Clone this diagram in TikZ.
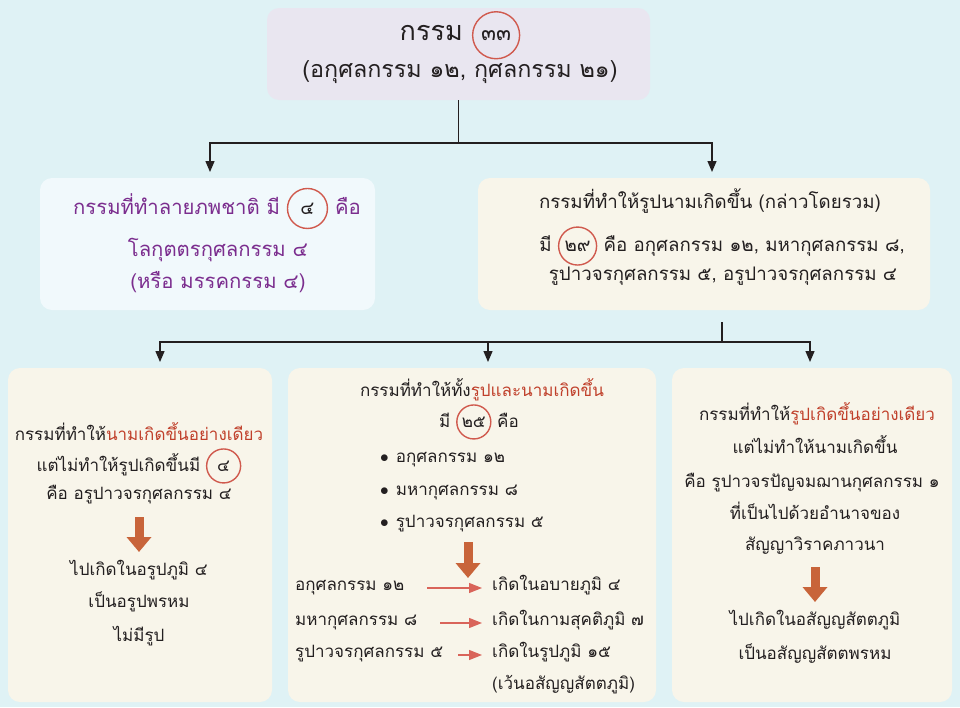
\documentclass[tikz,border=0pt]{standalone}
\usepackage{fontspec}
\newfontfamily\thai[Script=Thai]{Loma}
\usetikzlibrary{arrows.meta}
\definecolor{bgc}{HTML}{DFF2F5}
\definecolor{lav}{HTML}{E9E6F0}
\definecolor{lblue}{HTML}{F1F9FC}
\definecolor{cream}{HTML}{F8F5EA}
\definecolor{purp}{HTML}{7B2D8E}
\definecolor{redt}{HTML}{C0402B}
\definecolor{circ}{HTML}{D05A4E}
\definecolor{orng}{HTML}{C8643A}
\definecolor{salm}{HTML}{D9645A}
\definecolor{ink}{HTML}{231F20}
\newcommand{\cnum}[2][36]{\tikz[baseline=(cn.base)]\node[draw=circ,circle,line width=1.4pt,inner sep=0pt,minimum size=#1] (cn) {#2};}
\tikzset{
  box/.style={rounded corners=12pt, draw=none},
  txt/.style={anchor=mid, inner sep=0pt, text=ink},
  conn/.style={line width=1.3pt, draw=ink},
  carr/.style={conn, -{Triangle[length=11pt,width=9pt]}},
  bigarr/.style={draw=orng, line width=9pt, -{Triangle[length=15pt,width=24pt]}},
  rowarr/.style={draw=salm, line width=1.3pt, -{Triangle[length=13pt,width=10pt]}},
  fbody/.style={font=\thai\fontsize{17}{20}\selectfont},
  fmid/.style={font=\thai\fontsize{18.7}{22}\selectfont},
  fmidl/.style={font=\thai\fontsize{20.3}{24}\selectfont},
}
\begin{document}
\begin{tikzpicture}[x=1pt,y=-1pt]
\useasboundingbox (0,0) rectangle (960,707);
\fill[bgc] (0,0) rectangle (960,707);
% boxes
\node[box, fill=lav, minimum width=383, minimum height=92] (top) at (458.5,54) {};
\node[box, fill=lblue, minimum width=335, minimum height=132] (midL) at (207.5,244) {};
\node[box, fill=cream, minimum width=452, minimum height=132] (midR) at (704,244) {};
\node[box, fill=cream, minimum width=264, minimum height=334] (botL) at (140,535) {};
\node[box, fill=cream, minimum width=368, minimum height=334] (botM) at (472,535) {};
\node[box, fill=cream, minimum width=280, minimum height=334] (botR) at (812,535) {};
% connectors
\coordinate (j1) at (458.5,143);
\coordinate (aL) at (210,178);
\coordinate (aR) at (712,178);
\draw[conn] (top.south) -- (j1);
\draw[carr, shorten >=6pt] (j1) -| (aL);
\draw[carr, shorten >=6pt] (j1) -| (aR);
\coordinate (s2) at (722,322);
\coordinate (j2) at (722,342);
\coordinate (b1) at (160,368);
\coordinate (b2) at (488,368);
\coordinate (b3) at (810,368);
\coordinate (jm) at (488,342);
\draw[conn] (s2) -- (j2);
\draw[carr, shorten >=6pt] (j2) -| (b1);
\draw[carr, shorten >=6pt] (jm) -- (b2);
\draw[carr, shorten >=6pt] (j2) -| (b3);
% top text
\node[txt, font=\thai\fontsize{27}{30}\selectfont] (t1) at (460,38) {กรรม \cnum[47]{\fontsize{22}{24}\selectfont ๓๓}};
\node[txt, font=\thai\fontsize{23.3}{26}\selectfont] (t2) at (460,75) {(อกุศลกรรม ๑๒, กุศลกรรม ๒๑)};
% mid left
\begin{scope}[every node/.append style={fmidl, text=purp}]
\node[txt, text=purp] (l1) at (217,212) {กรรมที่ทำลายภพชาติ มี \cnum[40]{\textcolor{ink}{\fontsize{18.5}{22}\selectfont ๔}} คือ};
\node[txt, text=purp] (l2) at (218,254) {โลกุตตรกุศลกรรม ๔};
\node[txt, text=purp] (l3) at (218,286) {(หรือ มรรคกรรม ๔)};
\end{scope}
% mid right
\begin{scope}[every node/.append style={fmid}]
\node[txt] (r1) at (710,206) {กรรมที่ทำให้รูปนามเกิดขึ้น (กล่าวโดยรวม)};
\node[txt] (r2) at (722,249) {มี \cnum[38]{๒๙} คือ อกุศลกรรม ๑๒, มหากุศลกรรม ๘,};
\node[txt] (r3) at (723,278) {รูปาวจรกุศลกรรม ๕, อรูปาวจรกุศลกรรม ๔};
\end{scope}
% bottom left
\begin{scope}[every node/.append style={fbody}]
\node[txt] (p1) at (139,438) {กรรมที่ทำให้\textcolor{redt}{นามเกิดขึ้นอย่างเดียว}};
\node[txt] (p2) at (139,469) {แต่ไม่ทำให้รูปเกิดขึ้นมี \cnum[34]{๔}};
\node[txt] (p3) at (139,497) {คือ อรูปาวจรกุศลกรรม ๔};
\node[txt] (p4) at (139,573) {ไปเกิดในอรูปภูมิ ๔};
\node[txt] (p5) at (139,605) {เป็นอรูปพรหม};
\node[txt] (p6) at (139,639) {ไม่มีรูป};
\end{scope}
\coordinate (ga1) at (139,517);
\coordinate (ga2) at (139,552);
\draw[bigarr] (ga1) -- (ga2);
% bottom middle
\begin{scope}[every node/.append style={fbody}]
\node[txt] (m1) at (482,394) {กรรมที่ทำให้ทั้ง\textcolor{redt}{รูปและนามเกิดขึ้น}};
\node[txt] (m2) at (479,425) {มี \cnum[34]{๒๕} คือ};
\node[txt, anchor=mid west] (m3) at (380,460) {$\bullet$\hspace{7pt}อกุศลกรรม ๑๒};
\node[txt, anchor=mid west] (m4) at (380,493) {$\bullet$\hspace{7pt}มหากุศลกรรม ๘};
\node[txt, anchor=mid west] (m5) at (380,525) {$\bullet$\hspace{7pt}รูปาวจรกุศลกรรม ๕};
\node[txt, anchor=mid west] (q1) at (295,588) {อกุศลกรรม ๑๒};
\node[txt, anchor=mid west] (q2) at (295,623) {มหากุศลกรรม ๘};
\node[txt, anchor=mid west] (q3) at (295,655) {รูปาวจรกุศลกรรม ๕};
\node[txt, anchor=mid west] (w1) at (492,588) {เกิดในอบายภูมิ ๔};
\node[txt, anchor=mid west] (w2) at (492,623) {เกิดในกามสุคติภูมิ ๗};
\node[txt, anchor=mid west] (w3) at (492,655) {เกิดในรูปภูมิ ๑๕};
\node[txt, anchor=mid west] (w4) at (492,687) {(เว้นอสัญญสัตตภูมิ)};
\end{scope}
\coordinate (ga3) at (468,542);
\coordinate (ga4) at (468,578);
\draw[bigarr] (ga3) -- (ga4);
\coordinate (ra1) at (427,588);
\coordinate (rb1) at (482,588);
\coordinate (ra2) at (440,623);
\coordinate (rb2) at (482,623);
\coordinate (ra3) at (458,655);
\coordinate (rb3) at (482,655);
\draw[rowarr] (ra1) -- (rb1);
\draw[rowarr] (ra2) -- (rb2);
\draw[rowarr] (ra3) -- (rb3);
% bottom right
\begin{scope}[every node/.append style={fbody}]
\node[txt] (n1) at (817,418) {กรรมที่ทำให้\textcolor{redt}{รูปเกิดขึ้นอย่างเดียว}};
\node[txt] (n2) at (815,451) {แต่ไม่ทำให้นามเกิดขึ้น};
\node[txt] (n3) at (812,485) {คือ รูปาวจรปัญจมฌานกุศลกรรม ๑};
\node[txt] (n4) at (815,517) {ที่เป็นไปด้วยอำนาจของ};
\node[txt] (n5) at (815,548) {สัญญาวิราคภาวนา};
\node[txt] (n6) at (815,623) {ไปเกิดในอสัญญสัตตภูมิ};
\node[txt] (n7) at (815,657) {เป็นอสัญญสัตตพรหม};
\end{scope}
\coordinate (ga5) at (815,567);
\coordinate (ga6) at (815,602);
\draw[bigarr] (ga5) -- (ga6);
\end{tikzpicture}
\end{document}
